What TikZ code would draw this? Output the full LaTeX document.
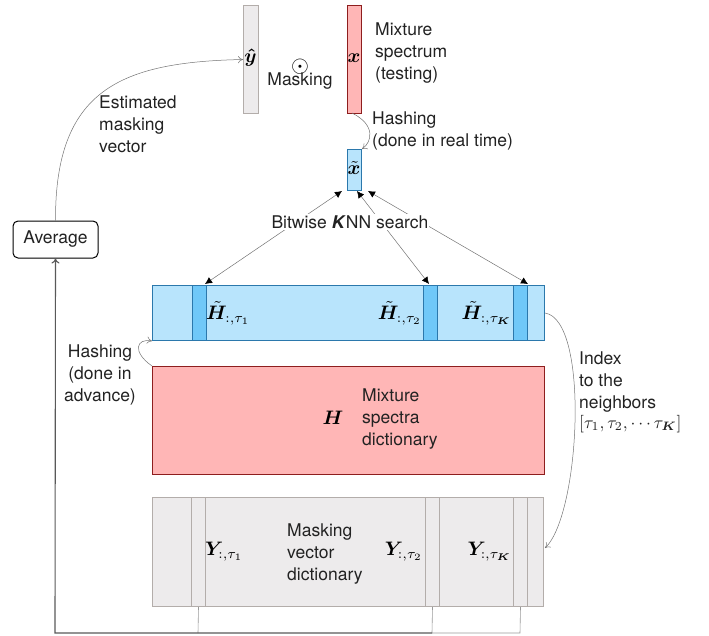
\documentclass[tikz,border=0pt]{standalone}
\usepackage{amsmath,bm,graphicx}
\usepackage[no-math]{fontspec}
\setmainfont{TeX Gyre Heros}
\usetikzlibrary{arrows.meta}
\definecolor{gfill}{HTML}{EDEBEC}
\definecolor{gline}{HTML}{B3ADAA}
\definecolor{pfill}{HTML}{FFB6B6}
\definecolor{pline}{HTML}{8E1E1E}
\definecolor{bfill}{HTML}{B8E4FC}
\definecolor{bline}{HTML}{2B78AC}
\definecolor{bcol}{HTML}{70C8F8}
\definecolor{txt}{HTML}{222222}
\newcommand{\bigmath}[1]{\scalebox{1.95}{\normalsize$#1$}}
\tikzset{
  vec/.style={draw, line width=1pt, inner sep=0pt, anchor=north west},
  gvec/.style={vec, draw=gline, fill=gfill},
  pvec/.style={vec, draw=pline, fill=pfill},
  bvec/.style={vec, draw=bline, fill=bfill},
  bcolumn/.style={vec, draw=bline, fill=bcol},
  lbl/.style={inner sep=0pt, text=txt, font=\fontsize{17.5}{22}\selectfont},
  mlbl/.style={inner sep=0pt},
  thinarrow/.style={draw=black!55, line width=0.5pt, -{To[length=5pt,width=7pt]}},
  knn/.style={draw=black!55, line width=0.5pt, {Latex[black,length=7pt,width=7pt]}-{Latex[black,length=7pt,width=7pt]}},
  feed/.style={draw=black!65, line width=1.1pt},
  colline/.style={draw=black!40, line width=0.6pt},
}
\begin{document}
\begin{tikzpicture}[x=1pt,y=-1pt]
\useasboundingbox (0,0) rectangle (709,635);
% top vectors
\node[gvec, minimum width=15pt, minimum height=108pt] (yhat) at (243,5) {};
\node[mlbl] (yhatl) at (250.5,58) {\bigmath{\bm{\hat y}}};
\node[pvec, minimum width=14pt, minimum height=108pt] (xv) at (347,5) {};
\node[mlbl] (xvl) at (354,58) {\bigmath{\bm x}};
\node[mlbl] (odot) at (300,67) {\scalebox{2.3}{\normalsize$\odot$}};
\node[lbl] (maskl) at (300,81) {Masking};
\node[lbl, anchor=west, align=left] (mixl) at (375,53) {Mixture\\spectrum\\(testing)};
\node[bvec, minimum width=14pt, minimum height=41pt] (xt) at (347,149) {};
\node[mlbl] (xtl) at (354,168) {\bigmath{\tilde{\bm x}}};
\node[lbl, anchor=west, align=left] (hashrt) at (372,131) {Hashing\\(done in real time)};
% average
\node[draw=black, line width=1pt, rounded corners=5pt, minimum width=85pt, minimum height=37pt, inner sep=0pt, fill=white] (avg) at (55.5,239.5) {};
\node[lbl] (avgl) at (55.5,239.5) {Average};
\node[lbl, anchor=west, align=left] (estl) at (99,124) {Estimated\\masking\\vector};
% hashed dictionary
\node[bvec, minimum width=392pt, minimum height=55pt] (Ht) at (152,285) {};
\node[bcolumn, minimum width=14pt, minimum height=55pt] (Hc1) at (192,285) {};
\node[bcolumn, minimum width=14pt, minimum height=55pt] (Hc2) at (423,285) {};
\node[bcolumn, minimum width=14pt, minimum height=55pt] (Hc3) at (513,285) {};
\node[mlbl, anchor=west] (Hl1) at (206,313) {\bigmath{\tilde{\bm H}_{:,\tau_1}}};
\node[mlbl, anchor=east] (Hl2) at (422,313) {\bigmath{\tilde{\bm H}_{:,\tau_2}}};
\node[mlbl, anchor=east] (Hl3) at (512,313) {\bigmath{\tilde{\bm H}_{:,\tau_{\bm K}}}};
% mixture dictionary
\node[pvec, minimum width=392pt, minimum height=108pt] (H) at (152,366) {};
\node[mlbl] (Hl) at (333,418) {\bigmath{\bm H}};
\node[lbl, anchor=west, align=left] (mixd) at (362,419) {Mixture\\spectra\\dictionary};
% masking dictionary
\node[gvec, minimum width=391pt, minimum height=109pt] (Y) at (152,497) {};
\node[gvec, minimum width=14pt, minimum height=109pt] (Yc1) at (191,497) {};
\node[gvec, minimum width=14pt, minimum height=109pt] (Yc2) at (425,497) {};
\node[gvec, minimum width=14pt, minimum height=109pt] (Yc3) at (513,497) {};
\node[mlbl, anchor=west] (Yl1) at (205,552) {\bigmath{\bm Y_{:,\tau_1}}};
\node[mlbl, anchor=east] (Yl2) at (423,552) {\bigmath{\bm Y_{:,\tau_2}}};
\node[mlbl, anchor=east] (Yl3) at (512,552) {\bigmath{\bm Y_{:,\tau_{\bm K}}}};
\node[lbl, anchor=west, align=left] (maskd) at (287,554) {Masking\\vector\\dictionary};
% side texts
\node[lbl, align=center] (hashadv) at (100,375) {Hashing\\(done in\\advance)};
\node[lbl, anchor=west, align=left] (idx) at (579,392) {Index\\to the\\neighbors\\[-2pt]\scalebox{1.75}{\normalsize$[\tau_1,\tau_2,\cdots\tau_{\bm K}]$}};
% coordinates
\coordinate (xs) at (352,113);
\coordinate (xe) at (362,149);
\coordinate (t1) at (342,191);
\coordinate (t2) at (357,191);
\coordinate (t3) at (368,191);
\coordinate (h1) at (205,284);
\coordinate (h2) at (429,284);
\coordinate (h3) at (528,284);
\coordinate (b1) at (198,633);
\coordinate (b2) at (432,633);
\coordinate (b3) at (520,633);
\coordinate (bl) at (55,633);
% arrows
\draw[thinarrow] (avg.north) .. controls (55,90) and (120,62) .. (yhat.west);
\draw[thinarrow] (xs) .. controls (376,125) and (372,142) .. (xe);
\draw[thinarrow] (H.north west) .. controls (132,352) and (136,338) .. (Ht.south west);
\draw[thinarrow] (Ht.east) .. controls (590,320) and (580,515) .. (545,548);
\draw[knn] (t1) -- (h1);
\draw[knn] (t2) -- (h2);
\draw[knn] (t3) -- (h3);
\node[lbl, fill=white, inner sep=1pt] (knnl) at (350,222) {Bitwise \textbf{\textit{K}}NN search};
% feedback
\draw[colline] (Yc1.south) -- (b1);
\draw[colline] (Yc2.south) -- (b2);
\draw[colline] (Yc3.south) -- (b3) -- (b2);
\draw[feed, -{To[length=5pt,width=8pt]}] (b2) -- (bl) -- (avg.south);
\end{tikzpicture}
\end{document}
